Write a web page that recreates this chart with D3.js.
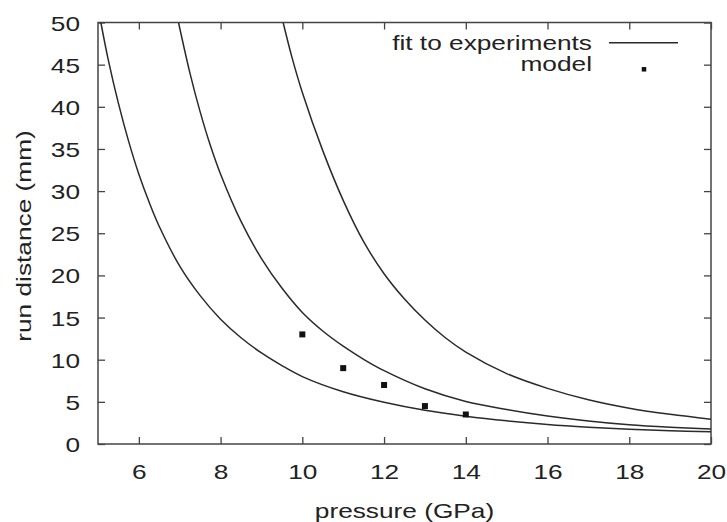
<!DOCTYPE html>
<html>
<head>
<meta charset="utf-8">
<script src="https://cdn.jsdelivr.net/npm/d3@7"></script>
<style>
  html, body { margin: 0; padding: 0; background: #fff; }
  svg { display: block; }
  text { font-family: "Liberation Sans", Arial, Helvetica, sans-serif; fill: #222; }
</style>
</head>
<body>
<svg id="chart" width="727" height="522"></svg>
<script>
// ---- data ----
const xTickValues = [6, 8, 10, 12, 14, 16, 18, 20];
const yTickValues = [0, 5, 10, 15, 20, 25, 30, 35, 40, 45, 50];

const curve1Pressure = [5.07, 5.25, 5.5, 5.75, 6.0, 6.25, 6.5, 7.0, 7.5, 8.0, 8.5, 9.0, 9.5, 10, 11, 12, 13, 14, 15, 16, 17, 18, 19, 20];
const curve1Distance = [50, 45.6, 40.4, 35.9, 32.0, 28.7, 25.8, 21.1, 17.6, 14.8, 12.6, 10.8, 9.3, 8.0, 6.2, 4.95, 4.0, 3.3, 2.75, 2.32, 2.0, 1.75, 1.58, 1.45];

const curve2Pressure = [6.97, 7.25, 7.5, 7.75, 8.0, 8.5, 9.0, 9.5, 10, 10.5, 11, 11.5, 12, 13, 14, 15, 16, 17, 18, 19, 20];
const curve2Distance = [50, 44.0, 39.4, 35.4, 32.0, 26.4, 22.0, 18.5, 15.6, 13.4, 11.6, 10.05, 8.7, 6.55, 5.05, 4.1, 3.32, 2.72, 2.27, 1.98, 1.77];

const curve3Pressure = [9.53, 9.75, 10, 10.5, 11, 11.5, 12, 12.5, 13, 13.5, 14, 15, 16, 17, 18, 19, 20];
const curve3Distance = [50, 45.8, 41.7, 34.8, 28.9, 24.0, 20.2, 17.2, 14.7, 12.6, 10.9, 8.35, 6.6, 5.25, 4.25, 3.52, 2.95];

const modelPressure = [10, 11, 12, 13, 14];
const modelDistance = [13, 9, 7, 4.5, 3.5];

const legendLabels = ["fit to experiments", "model"];
const xTitle = "pressure (GPa)";
const yTitle = "run distance (mm)";

// ---- layout ----
const plotL = 98, plotR = 711, plotT = 22.5, plotB = 444;
const sx = 1.25, fs = 21;
const ink = "#222";

const svg = d3.select("#chart");
const x = d3.scaleLinear().domain([5, 20]).range([plotL, plotR]);
const y = d3.scaleLinear().domain([0, 50]).range([plotB, plotT]);

svg.append("defs").append("clipPath").attr("id", "plotclip")
  .append("rect").attr("x", plotL).attr("y", plotT).attr("width", plotR - plotL).attr("height", plotB - plotT);

function styleAxis(g) {
  g.select(".domain").remove();
  g.selectAll(".tick line").attr("stroke", "#444").attr("stroke-width", 1.3);
}

// bottom axis
const gx = svg.append("g").attr("transform", `translate(0,${plotB})`)
  .call(d3.axisBottom(x).tickValues(xTickValues).tickSizeInner(-7).tickSizeOuter(0));
styleAxis(gx);
gx.selectAll(".tick text")
  .attr("x", null).attr("y", null).attr("dy", null)
  .attr("transform", `translate(0,27) scale(${sx},1)`)
  .attr("text-anchor", "middle").attr("dominant-baseline", "central")
  .style("font-size", fs + "px").attr("fill", ink);

// top axis (mirror ticks)
const gxt = svg.append("g").attr("transform", `translate(0,${plotT})`)
  .call(d3.axisTop(x).tickValues(xTickValues).tickSizeInner(-7).tickSizeOuter(0).tickFormat(""));
styleAxis(gxt);

// left axis
const gy = svg.append("g").attr("transform", `translate(${plotL},0)`)
  .call(d3.axisLeft(y).tickValues(yTickValues).tickSizeInner(-7).tickSizeOuter(0));
styleAxis(gy);
gy.selectAll(".tick text")
  .attr("x", null).attr("y", null).attr("dy", null)
  .attr("transform", `translate(-18,0) scale(${sx},1)`)
  .attr("text-anchor", "end").attr("dominant-baseline", "central")
  .style("font-size", fs + "px").attr("fill", ink);

// right axis (mirror ticks)
const gyr = svg.append("g").attr("transform", `translate(${plotR},0)`)
  .call(d3.axisRight(y).tickValues(yTickValues).tickSizeInner(-7).tickSizeOuter(0).tickFormat(""));
styleAxis(gyr);

// frame
svg.append("rect").attr("x", plotL).attr("y", plotT).attr("width", plotR - plotL).attr("height", plotB - plotT)
  .attr("fill", "none").attr("stroke", "#444").attr("stroke-width", 1.5);

// curves
const line = d3.line().x(d => x(d[0])).y(d => y(d[1])).curve(d3.curveCatmullRom.alpha(0.5));
const curves = [
  d3.zip(curve1Pressure, curve1Distance),
  d3.zip(curve2Pressure, curve2Distance),
  d3.zip(curve3Pressure, curve3Distance)
];
svg.append("g").attr("clip-path", "url(#plotclip)")
  .selectAll("path").data(curves).join("path")
  .attr("d", line).attr("fill", "none").attr("stroke", "#2a2a2a").attr("stroke-width", 1.5);

// model points
const ms = 6;
svg.append("g").selectAll("rect").data(d3.zip(modelPressure, modelDistance)).join("rect")
  .attr("x", d => x(d[0]) - ms / 2).attr("y", d => y(d[1]) - ms / 2)
  .attr("width", ms).attr("height", ms).attr("fill", "#111");

// legend
const legendRight = 592;
const legendY = [42, 69.3];
svg.append("text").text(legendLabels[0])
  .attr("transform", `translate(${legendRight},${legendY[0]}) scale(${sx},1)`)
  .attr("text-anchor", "end").attr("dominant-baseline", "central")
  .style("font-size", fs + "px").attr("fill", ink);
svg.append("line").attr("x1", 609).attr("x2", 678).attr("y1", 42.7).attr("y2", 42.7)
  .attr("stroke", "#2a2a2a").attr("stroke-width", 1.5);
svg.append("text").text(legendLabels[1])
  .attr("transform", `translate(${legendRight},${legendY[1] - 5.5}) scale(${sx},1)`)
  .attr("text-anchor", "end").attr("dominant-baseline", "central")
  .style("font-size", fs + "px").attr("fill", ink);
svg.append("rect").attr("x", 644 - 2.25).attr("y", legendY[1] - 2.25).attr("width", 4.5).attr("height", 4.5).attr("fill", "#111");

// axis titles
svg.append("text").text(xTitle)
  .attr("transform", `translate(${(plotL + plotR) / 2},510) scale(${sx},1)`)
  .attr("text-anchor", "middle").attr("dominant-baseline", "central")
  .style("font-size", fs + "px").attr("fill", ink);
svg.append("text").text(yTitle)
  .attr("transform", `translate(23,236) rotate(-90) scale(${sx},1)`)
  .attr("text-anchor", "middle").attr("dominant-baseline", "central")
  .style("font-size", fs + "px").attr("fill", ink);
</script>
</body>
</html>
